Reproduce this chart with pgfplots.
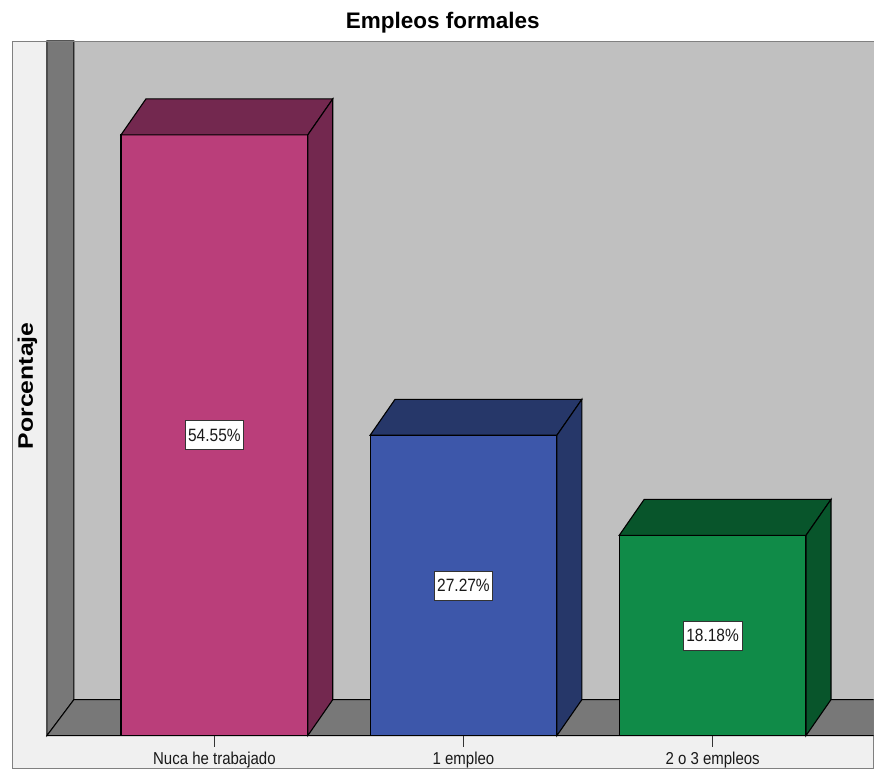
\documentclass[border=0pt]{standalone}
\usepackage{pgfplots}
\pgfplotsset{compat=1.18}
\usepackage{fontspec}
\setmainfont{Liberation Sans}
\definecolor{framebg}{HTML}{F0F0F0}
\definecolor{backwall}{HTML}{C0C0C0}
\definecolor{sidewall}{HTML}{787878}
\definecolor{pinkF}{HTML}{BA3E7A}
\definecolor{pinkD}{HTML}{73284F}
\definecolor{blueF}{HTML}{3D57AA}
\definecolor{blueD}{HTML}{263769}
\definecolor{greenF}{HTML}{108B48}
\definecolor{greenD}{HTML}{08552B}
\newcommand{\vs}[1]{\scalebox{1}[1.15]{#1}}
\begin{document}
\begin{tikzpicture}
\path (0,0) rectangle (874pt,771pt);
\begin{axis}[
  at={(12pt,35pt)}, anchor=south west,
  scale only axis, width=862pt, height=695pt,
  xmin=-0.8125, xmax=2.6459, ymin=0, ymax=63.08,
  clip=false, axis on top,
  axis line style={draw=none},
  ytick=\empty,
  xtick={0,1,2},
  xticklabels={\vs{Nuca he trabajado},\vs{1 empleo},\vs{2 o 3 empleos}},
  xtick pos=bottom, tick align=outside, major tick length=11pt,
  tick style={draw=none},
  xticklabel style={font=\fontsize{15}{16}\selectfont, text=black!90, inner sep=1pt, yshift=-4pt},
]
% frame and walls
\addplot[fill=framebg, draw=black!50, line width=0.8pt] coordinates {(-0.8125,-3.0) (2.6459,-3.0) (2.6459,63.08) (-0.8125,63.08)} -- cycle;
\addplot[fill=backwall, draw=none] coordinates {(-0.5637,3.268) (2.6459,3.268) (2.6459,63.08) (-0.5637,63.08)} -- cycle;
\addplot[fill=sidewall, draw=black, line width=1pt] coordinates {(-0.672,0) (-0.5637,3.268) (-0.5637,63.08) (-0.672,63.08)} -- cycle;
\addplot[fill=sidewall, draw=none] coordinates {(-0.672,0) (2.6459,0) (2.6459,3.268) (-0.5637,3.268)} -- cycle;
\addplot[draw=black, line width=1pt] coordinates {(2.6459,3.268) (-0.5637,3.268) (-0.672,0) (2.6459,0)};
\addplot[draw=black!50, line width=0.8pt] coordinates {(-0.8125,63.08) (2.6459,63.08)};
% tick marks
\addplot[draw=black!80, line width=1.3pt, mark=none] coordinates {(0,0) (0,-1.0)};
\addplot[draw=black!80, line width=1.3pt, mark=none] coordinates {(1,0) (1,-1.0)};
\addplot[draw=black!80, line width=1.3pt, mark=none] coordinates {(2,0) (2,-1.0)};
% bar 1
\addplot[fill=pinkF, draw=black, line width=1.1pt] coordinates {(-0.375,0) (0.375,0) (0.375,54.55) (-0.375,54.55)} -- cycle;
\addplot[fill=pinkD, draw=black, line width=1.1pt] coordinates {(-0.375,54.55) (0.375,54.55) (0.4753,57.818) (-0.2747,57.818)} -- cycle;
\addplot[fill=pinkD, draw=black, line width=1.1pt] coordinates {(0.375,0) (0.4753,3.268) (0.4753,57.818) (0.375,54.55)} -- cycle;
% bar 2
\addplot[fill=blueF, draw=black, line width=1.1pt] coordinates {(0.625,0) (1.375,0) (1.375,27.27) (0.625,27.27)} -- cycle;
\addplot[fill=blueD, draw=black, line width=1.1pt] coordinates {(0.625,27.27) (1.375,27.27) (1.4753,30.538) (0.7253,30.538)} -- cycle;
\addplot[fill=blueD, draw=black, line width=1.1pt] coordinates {(1.375,0) (1.4753,3.268) (1.4753,30.538) (1.375,27.27)} -- cycle;
% bar 3
\addplot[fill=greenF, draw=black, line width=1.1pt] coordinates {(1.625,0) (2.375,0) (2.375,18.18) (1.625,18.18)} -- cycle;
\addplot[fill=greenD, draw=black, line width=1.1pt] coordinates {(1.625,18.18) (2.375,18.18) (2.4753,21.448) (1.7253,21.448)} -- cycle;
\addplot[fill=greenD, draw=black, line width=1.1pt] coordinates {(2.375,0) (2.4753,3.268) (2.4753,21.448) (2.375,18.18)} -- cycle;
% value labels
\addplot[draw=none, mark=none, nodes near coords, point meta=explicit symbolic,
  every node near coord/.append style={anchor=center, fill=white, draw=black!80, line width=0.7pt,
    font=\fontsize{15.5}{16}\selectfont, inner xsep=3pt, minimum height=29pt, text=black!90}]
  coordinates {(0,27.275) [\vs{54.55\%}] (1,13.635) [\vs{27.27\%}] (2,9.09) [\vs{18.18\%}]};
\end{axis}
\node[anchor=base, font=\bfseries\fontsize{22.5}{24}\selectfont] at (443pt,742pt) {Empleos formales};
\node[anchor=base, rotate=90, font=\bfseries\fontsize{21}{22}\selectfont] at (33pt,385pt) {\scalebox{1.18}[1]{Porcentaje}};
\end{tikzpicture}
\end{document}
